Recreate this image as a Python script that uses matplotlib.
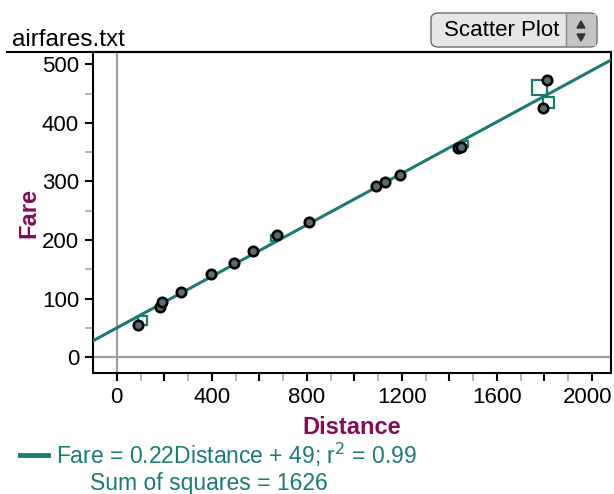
import numpy as np
import matplotlib
matplotlib.use("Agg")
import matplotlib.pyplot as plt
import matplotlib.transforms as mtransforms
from matplotlib.patches import FancyBboxPatch, Rectangle, Polygon
from matplotlib.lines import Line2D

plt.rcParams['font.family'] = ['Liberation Sans', 'DejaVu Sans']

# ---- data ----
distance = [91, 182, 189, 269, 396, 494, 575, 676, 811, 1092, 1127, 1190, 1438, 1450, 1810, 1794]
fare = [55, 85, 95, 112, 142, 160, 182, 209, 230, 292, 299, 311, 357, 358, 473, 426]
x_ticks = [0, 400, 800, 1200, 1600, 2000]
y_ticks = [0, 100, 200, 300, 400, 500]
title_text = "airfares.txt"
eq_text = r"Fare = 0.22Distance + 49; r$^{2}$ = 0.99"
ss_text = "Sum of squares = 1626"

W, H = 614, 494
fig = plt.figure(figsize=(W / 100, H / 100), dpi=100)

def fx(x):
    return x / W

def fy(y):
    return 1 - y / H

teal = '#1b7a74'
purple = '#850a5a'

ax = fig.add_axes([fx(93), fy(373), fx(611) - fx(93), fy(52) - fy(373)])
ax.set_xlim(-100, 2080)
ax.set_ylim(-27, 521)

# zero lines
ax.axvline(0, color='#a0a0a0', lw=1.6, zorder=1)
ax.axhline(0, color='#a0a0a0', lw=1.6, zorder=1)

d = np.array(distance, float)
f = np.array(fare, float)
slope, intercept = np.polyfit(d, f, 1)
xs = np.array([-100, 2080])
ax.plot(xs, slope * xs + intercept, color=teal, lw=2.2, zorder=3)

# residual squares (kept visually square)
fig.canvas.draw()
bb = ax.get_window_extent()
px_per_x = bb.width / (2080 + 100)
px_per_y = bb.height / (521 + 27)
for xi, yi in zip(d, f):
    pred = slope * xi + intercept
    r = yi - pred
    w = abs(r) * px_per_y / px_per_x
    x0 = xi - w if r > 0 else xi
    ax.add_patch(Rectangle((x0, min(yi, pred)), w, abs(r), fill=False,
                           edgecolor=teal, lw=1.6, zorder=2))

ax.scatter(d, f, s=46, facecolor='#5a6c6c', edgecolor='black', linewidths=1.9, zorder=4)

# x: black ticks every 200 (labelled every 400), grey minor ticks every 100
x_major = np.arange(0, 2001, 200)
ax.set_xticks(x_major)
ax.set_xticklabels([str(int(v)) if int(v) in x_ticks else '' for v in x_major])
ax.set_yticks(y_ticks)
ax.set_xticks(np.arange(100, 2001, 200), minor=True)
ax.set_yticks(np.arange(50, 501, 100), minor=True)
ax.tick_params(axis='both', which='major', direction='out', length=6, width=1.5,
               color='black', labelsize=16, pad=4)
ax.tick_params(axis='both', which='minor', direction='out', length=6, width=1.2,
               color='#a8a8a8')
for sp in ax.spines.values():
    sp.set_linewidth(1.5)
    sp.set_color('black')
for lab in ax.get_xticklabels():
    if lab.get_text() == '2000':
        lab.set_horizontalalignment('right')
        lab.set_transform(lab.get_transform() +
                          mtransforms.ScaledTranslation(0.20, 0, fig.dpi_scale_trans))

ax.set_xlabel('Distance', fontsize=17, fontweight='bold', color=purple, labelpad=6)
ax.set_ylabel('Fare', fontsize=17, fontweight='bold', color=purple, labelpad=1)

# header line extending left of axes
fig.add_artist(Line2D([fx(7), fx(611)], [fy(52), fy(52)], color='black', lw=1.5))
fig.text(fx(12), fy(46), title_text, fontsize=17.5, ha='left', va='baseline', color='black')

# button
btn = FancyBboxPatch((fx(431), fy(47)), fx(597) - fx(431), fy(13) - fy(47),
                     boxstyle='round,pad=0,rounding_size=0.012', transform=fig.transFigure,
                     facecolor='#e6e6e6', edgecolor='#6a6a6a', lw=1.0)
fig.add_artist(btn)
btn2 = Rectangle((fx(566), fy(46)), fx(596) - fx(566), fy(14) - fy(46), transform=fig.transFigure,
                 facecolor='#c4c4c4', edgecolor='none')
fig.add_artist(btn2)
fig.add_artist(Line2D([fx(566), fx(566)], [fy(46), fy(14)], color='#8a8a8a', lw=1.0))
fig.add_artist(Polygon([[fx(577), fy(28)], [fx(585), fy(28)], [fx(581), fy(21)]],
                       closed=True, transform=fig.transFigure, color='#333333'))
fig.add_artist(Polygon([[fx(577), fy(34)], [fx(585), fy(34)], [fx(581), fy(41)]],
                       closed=True, transform=fig.transFigure, color='#333333'))
fig.text(fx(502), fy(31), 'Scatter Plot', fontsize=16, ha='center', va='center', color='black')

# legend
fig.add_artist(Line2D([fx(20), fx(48)], [fy(455), fy(455)], color=teal, lw=3.5))
fig.text(fx(56), fy(455), eq_text, fontsize=16.5, ha='left', va='center', color=teal)
fig.text(fx(90), fy(483), ss_text, fontsize=16.5, ha='left', va='center', color=teal)

fig.savefig('out.png', dpi=100)
